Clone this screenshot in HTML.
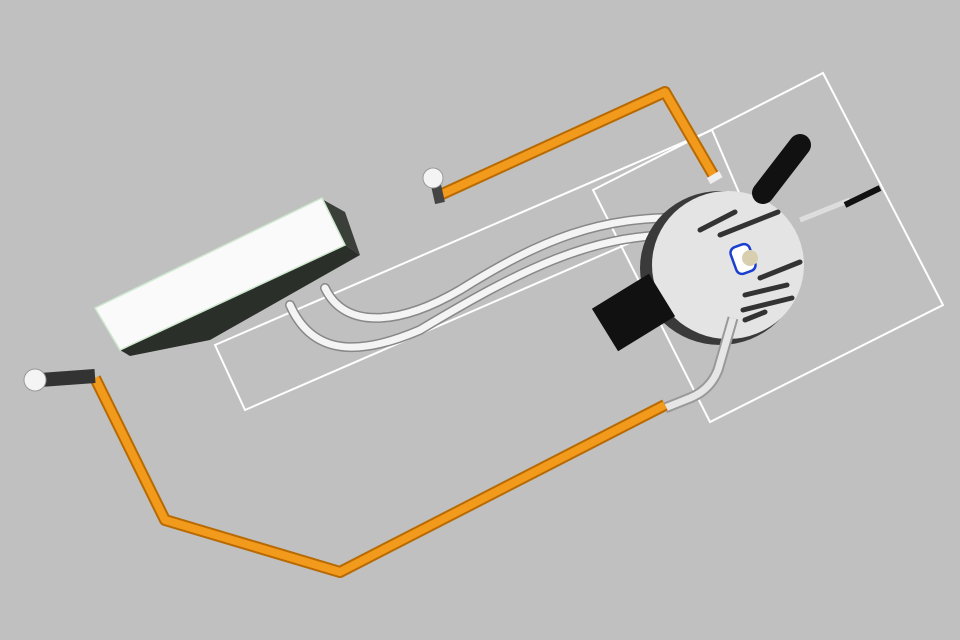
<!DOCTYPE html>
<html><head><style>html,body{margin:0;padding:0;background:#c0c0c0}svg{display:block}</style></head><body>
<svg width="960" height="640" viewBox="0 0 960 640" xmlns="http://www.w3.org/2000/svg">
<rect width="960" height="640" fill="#c0c0c0"/>
<!-- frames -->
<polygon points="215,345 712,130 740,195 245,410" fill="none" stroke="#fff" stroke-width="2"/>
<polygon points="593,190 823,73 943,305 710,422" fill="none" stroke="#fff" stroke-width="2"/>
<!-- box -->
<polygon points="120,350 345,245 360,255 210,340 130,356" fill="#2a2f2a"/>
<polygon points="320,198 345,212 360,255 345,245" fill="#3a3f3a"/>
<polygon points="95,308 322,198 345,245 120,350" fill="#fafafa" stroke="#cfe8cf" stroke-width="1.5"/>
<!-- white tubes -->
<g fill="none" stroke="#888" stroke-width="10" stroke-linecap="round">
<path d="M325,288 C345,330 400,325 460,290 C540,240 600,215 690,218"/>
<path d="M290,305 C310,350 350,360 420,330 C520,270 590,235 675,235"/>
</g>
<g fill="none" stroke="#f4f4f4" stroke-width="7" stroke-linecap="round">
<path d="M325,288 C345,330 400,325 460,290 C540,240 600,215 690,218"/>
<path d="M290,305 C310,350 350,360 420,330 C520,270 590,235 675,235"/>
</g>
<!-- disc -->
<ellipse cx="720" cy="268" rx="80" ry="77" fill="#3a3a3a"/>
<ellipse cx="728" cy="265" rx="76" ry="74" fill="#e4e4e4"/>
<g stroke="#333" stroke-width="5" stroke-linecap="round">
<line x1="700" y1="230" x2="735" y2="212"/>
<line x1="720" y1="235" x2="778" y2="212"/>
<line x1="760" y1="278" x2="800" y2="262"/>
<line x1="745" y1="295" x2="787" y2="285"/>
<line x1="743" y1="310" x2="792" y2="298"/>
<line x1="745" y1="320" x2="765" y2="312"/>
</g>
<rect x="733" y="245" width="20" height="28" rx="6" fill="#fff" stroke="#1a3fd0" stroke-width="2.5" transform="rotate(-20 743 259)"/>
<circle cx="750" cy="258" r="8" fill="#d8cfb0"/>
<!-- black cylinders -->
<line x1="605" y1="330" x2="662" y2="295" stroke="#111" stroke-width="50"/>
<line x1="763" y1="193" x2="800" y2="145" stroke="#111" stroke-width="22" stroke-linecap="round"/>
<line x1="800" y1="220" x2="850" y2="200" stroke="#ddd" stroke-width="5"/>
<line x1="845" y1="205" x2="880" y2="188" stroke="#111" stroke-width="6"/>
<!-- gray pipe -->
<path d="M733,318 L718,370 Q710,390 690,398 L665,408" fill="none" stroke="#999" stroke-width="11"/>
<path d="M733,318 L718,370 Q710,390 690,398 L665,408" fill="none" stroke="#e6e6e6" stroke-width="7"/>
<!-- orange pipes -->
<g fill="none" stroke-linejoin="round">
<path d="M440,195 L665,92 L715,178" stroke="#b86a00" stroke-width="12"/>
<path d="M440,195 L665,92 L715,178" stroke="#f29a1c" stroke-width="8"/>
<path d="M95,378 L165,520 L340,572 L665,405" stroke="#b86a00" stroke-width="12"/>
<path d="M95,378 L165,520 L340,572 L665,405" stroke="#f29a1c" stroke-width="8"/>
</g>
<rect x="708" y="174" width="14" height="7" fill="#eee" transform="rotate(-30 715 178)"/>
<!-- bulbs -->
<line x1="436" y1="185" x2="440" y2="203" stroke="#444" stroke-width="10"/>
<circle cx="433" cy="178" r="10" fill="#f4f4f4" stroke="#999"/>
<line x1="40" y1="380" x2="95" y2="376" stroke="#333" stroke-width="14"/>
<circle cx="35" cy="380" r="11" fill="#f4f4f4" stroke="#999"/>
</svg>
</body></html>
